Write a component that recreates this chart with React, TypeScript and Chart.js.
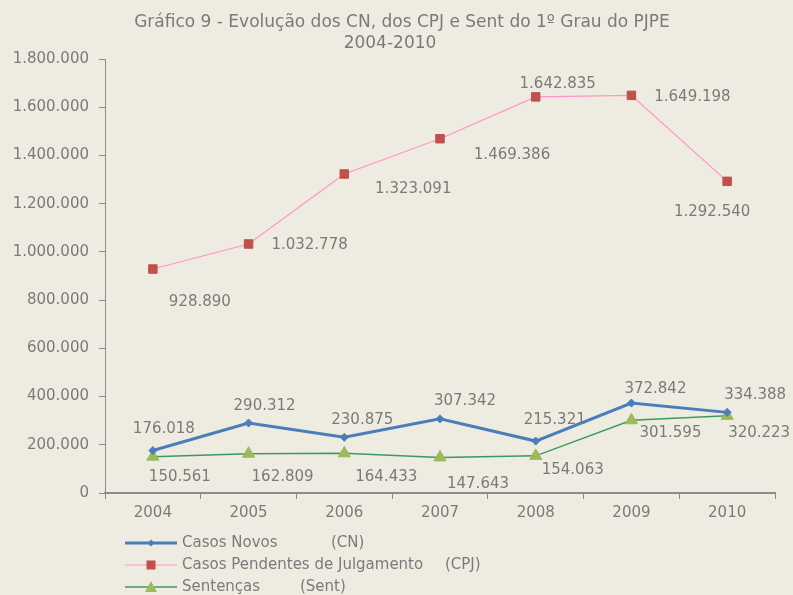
import React, { useEffect, useRef } from "react";
import { Chart, registerables } from "chart.js";

Chart.register(...registerables);

const years = ["2004", "2005", "2006", "2007", "2008", "2009", "2010"];
const casosNovos = [176018, 290312, 230875, 307342, 215321, 372842, 334388];
const casosPendentes = [928890, 1032778, 1323091, 1469386, 1642835, 1649198, 1292540];
const sentencas = [150561, 162809, 164433, 147643, 154063, 301595, 320223];
const yTicks = [0, 200000, 400000, 600000, 800000, 1000000, 1200000, 1400000, 1600000, 1800000];

const titleLines = ["Gráfico 9 - Evolução dos CN, dos CPJ e Sent do 1º Grau do PJPE", "2004-2010"];
const seriesNames = ["Casos Novos", "Casos Pendentes de Julgamento", "Sentenças"];
const seriesAbbr = ["(CN)", "(CPJ)", "(Sent)"];

// label offsets (layout only, in px relative to the point)
const cnLabelOffsets = [[11, -21], [16, -17], [18, -17], [25, -18], [19, -21], [24, -14], [28, -17]];
const cpjLabelOffsets = [[47, 33], [61, 1], [69, 15], [72, 16], [22, -13], [61, 2], [-15, 31]];
const sentLabelOffsets = [[27, 20], [34, 23], [42, 24], [38, 27], [37, 14], [39, 13], [32, 17]];

const TEXT = "#7a7a7a";
const AXIS = "#8c8c8c";
const BG = "#EEECE1";
const FONT = "'DejaVu Sans', sans-serif";

const fmt = (v: number) => String(Math.round(v)).replace(/\B(?=(\d{3})+(?!\d))/g, ".");

const extrasPlugin = {
  id: "extras",
  beforeDraw(chart: any) {
    const ctx = chart.ctx;
    ctx.save();
    ctx.fillStyle = BG;
    ctx.fillRect(0, 0, chart.width, chart.height);
    ctx.restore();
  },
  afterDraw(chart: any) {
    const ctx = chart.ctx;
    ctx.save();
    // title
    ctx.fillStyle = TEXT;
    ctx.font = `17px ${FONT}`;
    ctx.textAlign = "center";
    ctx.textBaseline = "middle";
    ctx.fillText(titleLines[0], 402, 23);
    ctx.fillText(titleLines[1], 390, 44);

    // data labels
    ctx.font = `15px ${FONT}`;
    const offsets = [cnLabelOffsets, cpjLabelOffsets, sentLabelOffsets];
    chart.data.datasets.forEach((ds: any, di: number) => {
      const meta = chart.getDatasetMeta(di);
      meta.data.forEach((pt: any, i: number) => {
        const o = offsets[di][i];
        ctx.fillText(fmt(ds.data[i]), pt.x + o[0], pt.y + o[1]);
      });
    });

    // legend
    ctx.textAlign = "left";
    const rows = [543, 565, 587];
    const abbrX = [331, 445, 300];
    chart.data.datasets.forEach((ds: any, di: number) => {
      const y = rows[di];
      ctx.strokeStyle = ds.borderColor;
      ctx.lineWidth = ds.borderWidth;
      ctx.beginPath();
      ctx.moveTo(125, y);
      ctx.lineTo(177, y);
      ctx.stroke();
      ctx.fillStyle = ds.pointBackgroundColor;
      const cx = 151;
      ctx.beginPath();
      if (di === 0) {
        ctx.moveTo(cx, y - 3.5);
        ctx.lineTo(cx + 3.5, y);
        ctx.lineTo(cx, y + 3.5);
        ctx.lineTo(cx - 3.5, y);
        ctx.closePath();
      } else if (di === 1) {
        ctx.rect(cx - 4.5, y - 4.5, 9, 9);
      } else {
        ctx.moveTo(cx, y - 6);
        ctx.lineTo(cx + 6, y + 5);
        ctx.lineTo(cx - 6, y + 5);
        ctx.closePath();
      }
      ctx.fill();
      ctx.fillStyle = TEXT;
      ctx.fillText(seriesNames[di], 182, y);
      ctx.fillText(seriesAbbr[di], abbrX[di], y);
    });
    ctx.restore();
  },
};

export default function App() {
  const ref = useRef<HTMLCanvasElement | null>(null);
  useEffect(() => {
    if (!ref.current) return;
    const chart = new Chart(ref.current, {
      type: "line",
      data: {
        labels: years,
        datasets: [
          {
            label: seriesNames[0],
            data: casosNovos,
            borderColor: "#4A7EBB",
            borderWidth: 3,
            pointStyle: "rectRot",
            pointRadius: 4,
            pointBackgroundColor: "#4A7EBB",
            pointBorderColor: "#4A7EBB",
            pointBorderWidth: 1,
            tension: 0,
          },
          {
            label: seriesNames[1],
            data: casosPendentes,
            borderColor: "#FF94C6",
            borderWidth: 1.2,
            pointStyle: "rect",
            pointRadius: 6,
            pointBackgroundColor: "#C0504D",
            pointBorderColor: "#C0504D",
            pointBorderWidth: 1,
            tension: 0,
          },
          {
            label: seriesNames[2],
            data: sentencas,
            borderColor: "#3A9A60",
            borderWidth: 1.5,
            pointStyle: "triangle",
            pointRadius: 7,
            pointBackgroundColor: "#9BBB59",
            pointBorderColor: "#9BBB59",
            pointBorderWidth: 1,
            tension: 0,
          },
        ],
      },
      options: {
        responsive: false,
        animation: false,
        layout: { padding: { top: 59, right: 18, left: 0, bottom: 0 } },
        plugins: {
          legend: { display: false },
          title: { display: false },
          tooltip: { enabled: false },
        },
        scales: {
          x: {
            type: "category",
            offset: true,
            grid: {
              display: true,
              drawOnChartArea: false,
              offset: true,
              tickLength: 6,
              color: AXIS,
              lineWidth: 1,
            },
            border: { display: true, color: AXIS, width: 2 },
            ticks: { color: TEXT, font: { family: FONT, size: 15 }, padding: 5 },
            afterFit: (scale: any) => {
              scale.height = 102;
            },
          },
          y: {
            min: 0,
            max: 1800000,
            afterBuildTicks: (scale: any) => {
              scale.ticks = yTicks.map((v) => ({ value: v }));
            },
            grid: {
              display: true,
              drawOnChartArea: false,
              tickLength: 6,
              color: AXIS,
              lineWidth: 1,
            },
            border: { display: true, color: AXIS, width: 1 },
            ticks: {
              color: TEXT,
              font: { family: FONT, size: 15 },
              padding: 10,
              callback: (v: any) => fmt(Number(v)),
            },
            afterFit: (scale: any) => {
              scale.width = 105;
            },
          },
        },
      },
      plugins: [extrasPlugin],
    });
    return () => chart.destroy();
  }, []);
  return (
    <div style={{ position: "fixed", left: 0, top: 0, width: 793, height: 595, background: BG }}>
      <canvas ref={ref} width={793} height={595} style={{ display: "block" }} />
    </div>
  );
}
